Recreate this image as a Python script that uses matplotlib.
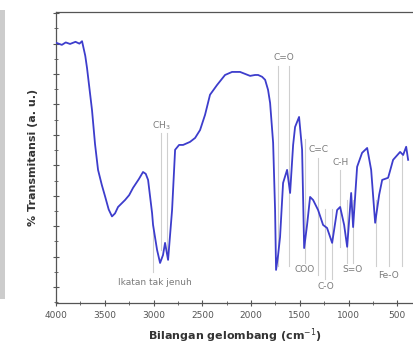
import matplotlib
matplotlib.use("Agg")
import matplotlib.pyplot as plt
from matplotlib.ticker import MultipleLocator
from matplotlib.patches import Rectangle

# spektrum FTIR
wavenumber = [4000, 3940, 3900, 3856, 3800, 3760, 3733, 3700, 3682, 3631, 3600, 3569,
              3530, 3497, 3460, 3426, 3395, 3364, 3292, 3250, 3210, 3150, 3108, 3080,
              3056, 3015, 3005, 2964, 2933, 2903, 2882, 2851, 2810, 2779, 2738, 2697,
              2626, 2574, 2523, 2472, 2421, 2349, 2267, 2195, 2113, 2010, 1959, 1928,
              1887, 1856, 1826, 1805, 1774, 1754, 1744, 1723, 1703, 1672, 1631, 1600,
              1569, 1549, 1508, 1477, 1456, 1426, 1395, 1364, 1313, 1262, 1221, 1169,
              1118, 1087, 1046, 1015, 974, 954, 913, 862, 810, 769, 728, 687, 656,
              595, 544, 472, 441, 410, 390]
transmit = [80.3, 79.6, 80.4, 79.9, 80.6, 80.0, 80.8, 76.0, 72.0, 58.2, 47.0, 38.5,
            33.5, 29.8, 25.5, 23.2, 24.2, 26.3, 28.6, 30.2, 32.6, 35.5, 37.8, 37.2,
            35.2, 24.3, 20.4, 12.2, 7.9, 10.5, 14.5, 8.9, 25.3, 45.1, 46.7, 46.7,
            47.7, 49.0, 51.6, 56.6, 63.2, 66.4, 69.7, 70.7, 70.7, 69.4, 69.7, 69.7,
            69.1, 68.1, 64.8, 60.5, 47.4, 25.3, 5.6, 10.5, 16.4, 34.2, 38.5, 30.9,
            46.7, 52.6, 55.9, 45.1, 12.8, 20.4, 29.6, 28.6, 25.3, 20.4, 19.4, 14.5,
            25.3, 26.3, 20.4, 13.2, 30.9, 19.7, 39.5, 44.1, 45.7, 38.5, 21.1, 30.3,
            35.2, 35.9, 41.8, 44.4, 43.4, 46.1, 41.8]

# garis penanda gugus fungsi: posisi, batas bawah, batas atas
mark_pos = [3005, 2923, 2862, 1723, 1610, 1446, 1313, 1241, 1169, 1087, 1015, 954, 718, 585, 451]
mark_lo = [5.0, 12.0, 9.5, 7.0, 7.0, 8.0, 4.0, 2.5, 2.5, 13.0, 8.0, 8.0, 7.0, 7.0, 7.0]
mark_hi = [20.5, 50.5, 50.5, 72.5, 72.5, 48.5, 42.5, 25.5, 25.5, 38.5, 28.5, 28.5, 28.5, 35.5, 43.5]

labels = ["C=O", "CH$_3$", "C=C", "C-H", "COO", "C-O", "S=O", "Fe-O", "Ikatan tak jenuh"]
label_x = [1662, 2923, 1313, 1087, 1456, 1231, 964, 595, 2985]
label_y = [75.3, 53.0, 45.1, 40.8, 5.9, 0.3, 5.6, 3.9, 1.6]

fig = plt.figure(figsize=(4.13, 3.48), dpi=100)
ax = fig.add_axes([0.1356, 0.129, 0.8644, 0.8365])

for x, lo, hi in zip(mark_pos, mark_lo, mark_hi):
    ax.plot([x, x], [lo, hi], color="#cfcfcf", lw=0.8, zorder=1)

ax.plot(wavenumber, transmit, color="#3d3dcc", lw=1.3, zorder=3, solid_joinstyle="round")

for t, x, y in zip(labels, label_x, label_y):
    ax.text(x, y, t, ha="center", va="center", fontsize=6.5, color="#7a7a7a", zorder=4)

ax.set_xlim(4000, 340)
ax.set_ylim(-5.3, 90.4)
ax.xaxis.set_major_locator(MultipleLocator(500))
ax.xaxis.set_minor_locator(MultipleLocator(250))
ax.yaxis.set_major_locator(MultipleLocator(10))
ax.yaxis.set_minor_locator(MultipleLocator(5))
ax.tick_params(which="major", direction="inout", length=5, width=0.8, colors="#555555",
               labelsize=6.5, labelcolor="#555555")
ax.tick_params(which="minor", direction="inout", length=3, width=0.6, colors="#555555")
ax.tick_params(axis="y", labelleft=False)
ax.spines["right"].set_visible(False)
for s in ["left", "top", "bottom"]:
    ax.spines[s].set_color("#555555")
    ax.spines[s].set_linewidth(0.9)

ax.set_xlabel("Bilangan gelombang (cm$^{-1}$)", fontsize=8, fontweight="bold", color="#333333",
              labelpad=4)
ax.set_ylabel("% Transmitansi (a. u.)", fontsize=8, fontweight="bold", color="#333333",
              labelpad=8)

# tepi abu-abu di kiri gambar
fig.add_artist(Rectangle((0, 0.14), 0.013, 0.83, transform=fig.transFigure,
                         color="#cccccc", lw=0))

fig.savefig("out.png", dpi=100)
